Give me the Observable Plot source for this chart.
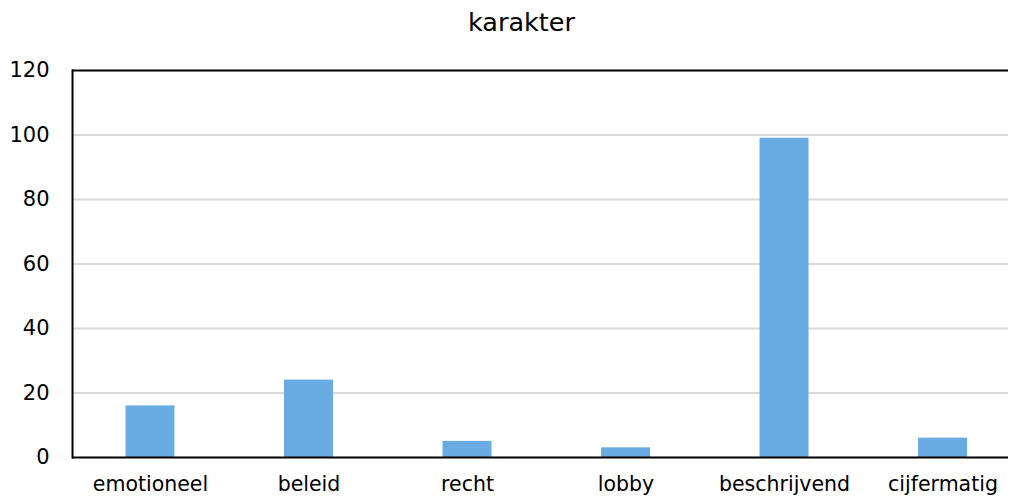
<!DOCTYPE html>
<html>
<head>
<meta charset="utf-8">
<script src="https://cdn.jsdelivr.net/npm/d3@7"></script>
<script src="https://cdn.jsdelivr.net/npm/@observablehq/plot@0.6"></script>
<style>
  html, body { margin: 0; padding: 0; background: #fff; }
  #chart { width: 1010px; height: 497px; }
</style>
</head>
<body>
<div id="chart"></div>
<script>
const categories = ["emotioneel", "beleid", "recht", "lobby", "beschrijvend", "cijfermatig"];
const values = [16, 24, 5, 3, 99, 6];
const yTicks = [0, 20, 40, 60, 80, 100, 120];
const title = "karakter";

const data = categories.map((c, i) => ({category: c, value: values[i]}));

const chart = Plot.plot({
  width: 1010,
  height: 497,
  marginTop: 70,
  marginBottom: 40,
  marginLeft: 72,
  marginRight: 2,
  style: {fontFamily: "DejaVu Sans, Verdana, sans-serif", background: "#fff", color: "#000"},
  x: {domain: categories, range: [72, 1020.5], round: false, paddingInner: 0.691, paddingOuter: 0.3375, label: null},
  y: {domain: [0, 120], ticks: yTicks, label: null},
  marks: [
    Plot.gridY(yTicks.filter(t => t > 0 && t < 120), {stroke: "#d9d9d9", strokeOpacity: 1, strokeWidth: 2}),
    Plot.barY(data, {x: "category", y: "value", fill: "#69ace3"}),
    Plot.axisY({ticks: yTicks, tickSize: 0, tickPadding: 23, fontSize: 21, label: null}),
    Plot.axisX({tickSize: 0, tickPadding: 19, fontSize: 20.5, label: null}),
    Plot.ruleY([0], {stroke: "#000", strokeWidth: 2}),
    Plot.ruleY([120], {stroke: "#000", strokeWidth: 2}),
    Plot.frame({anchor: "left", stroke: "#000", strokeWidth: 2}),
    Plot.text([title], {frameAnchor: "top", dy: -58, dx: -19, fontSize: 25.5, fill: "#000", text: d => d, lineAnchor: "top"})
  ]
});
document.getElementById("chart").appendChild(chart);
</script>
</body>
</html>
